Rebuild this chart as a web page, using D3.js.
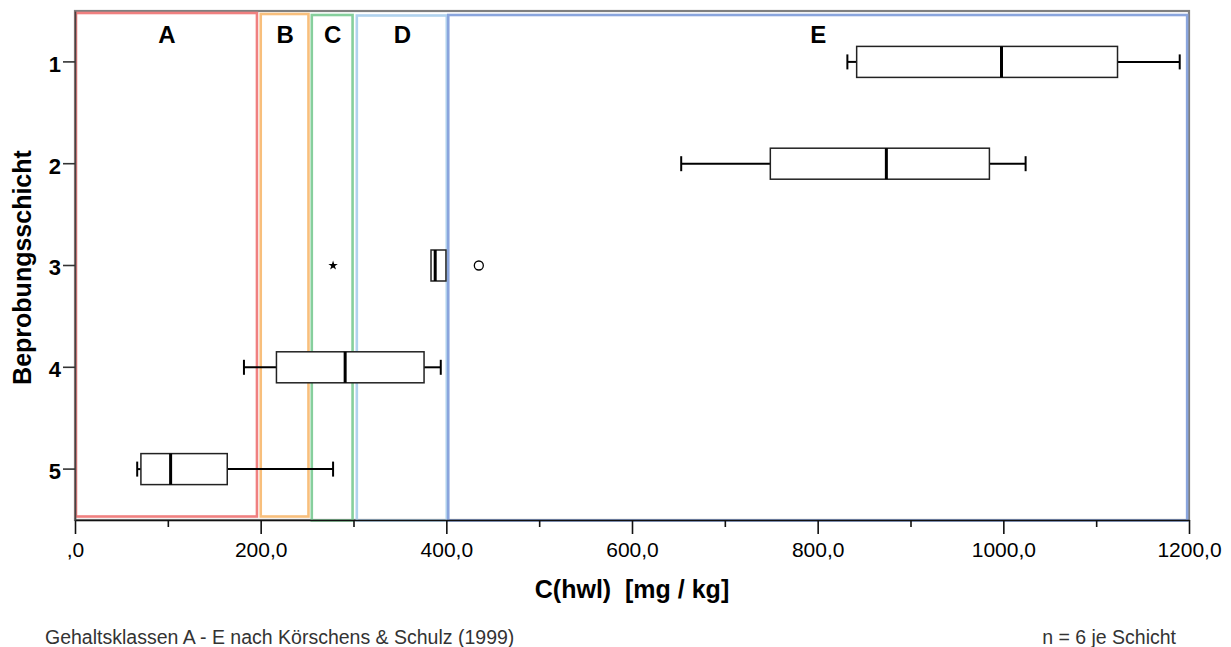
<!DOCTYPE html>
<html><head><meta charset="utf-8">
<script src="https://cdn.jsdelivr.net/npm/d3@7"></script>
<style>
body{margin:0;background:#fff;}
svg{display:block;font-family:"Liberation Sans",Arial,Helvetica,sans-serif;}
</style>
</head><body>
<svg id="chart" width="1231" height="647"></svg>
<script>
// ---- data ----
const layers = ["1", "2", "3", "4", "5"];
const whiskerLow  = [832, 653, 383.5, 182, 67];
const q1          = [842, 749, 383.5, 217, 71];
const median      = [998, 874, 388,   291, 103];
const q3          = [1123, 985, 399.6, 376, 164];
const whiskerHigh = [1190, 1024, 399.6, 394, 278];
const outlierLayer = ["3"];
const outlierValue = [435];
const extremeLayer = ["3"];
const extremeValue = [278];
const classNames = ["A", "B", "C", "D", "E"];
const classStart = [0, 199, 254, 302.5, 401];
const classEnd   = [196, 251.5, 299, 400.5, 1198];
const xTickValues = [0, 200, 400, 600, 800, 1000, 1200];
const xTickLabels = [",0", "200,0", "400,0", "600,0", "800,0", "1000,0", "1200,0"];
const xMinorTicks = [100, 300, 500, 700, 900, 1100];
const xTitle = "C(hwl)  [mg / kg]";
const yTitle = "Beprobungsschicht";
const noteLeft = "Gehaltsklassen A - E nach Körschens & Schulz (1999)";
const noteRight = "n = 6 je Schicht";

// ---- layout / style ----
const W = 1231, H = 647;
const M = {left: 75, right: 42, top: 11, bottom: 127};
const classColors = ["#f08080", "#f8bf7c", "#86cf9d", "#b0d2ee", "#8aa5dd"];
const classTopInset = [2, 3, 4, 4.5, 4];
const classBottomInset = [3.5, 3.5, -0.5, -0.5, -0.5];
const boxH = 31, capH = 15;

const svg = d3.select("#chart");
const x = d3.scaleLinear().domain([0, 1200]).range([M.left, W - M.right]);
const y = d3.scaleBand().domain(layers).range([M.top, H - M.bottom]).padding(0);
const yc = d => y(d) + y.bandwidth() / 2;
const plotTop = M.top, plotBottom = H - M.bottom;

// frame
svg.append("rect")
  .attr("x", M.left).attr("y", plotTop)
  .attr("width", x(1200) - M.left).attr("height", plotBottom - plotTop)
  .attr("fill", "none").attr("stroke", "#7f7f7f").attr("stroke-width", 2.2);

// class rectangles
const cls = svg.append("g");
classNames.forEach((c, i) => {
  cls.append("rect")
    .attr("x", x(classStart[i]) + 1)
    .attr("y", plotTop + classTopInset[i])
    .attr("width", x(classEnd[i]) - x(classStart[i]) - 1)
    .attr("height", (plotBottom - classBottomInset[i]) - (plotTop + classTopInset[i]))
    .attr("fill", "none").attr("stroke", classColors[i]).attr("stroke-width", 2.6);
  cls.append("text")
    .attr("x", (x(classStart[i]) + x(classEnd[i])) / 2 + 1)
    .attr("y", 43)
    .attr("text-anchor", "middle")
    .attr("font-size", 24).attr("font-weight", "bold").attr("fill", "#000")
    .text(c);
});

// boxplots
const bx = svg.append("g");
layers.forEach((l, i) => {
  const cy = yc(l);
  if (whiskerLow[i] < q1[i]) {
    bx.append("line").attr("x1", x(whiskerLow[i])).attr("x2", x(q1[i]))
      .attr("y1", cy).attr("y2", cy).attr("stroke", "#000").attr("stroke-width", 2);
    bx.append("line").attr("x1", x(whiskerLow[i])).attr("x2", x(whiskerLow[i]))
      .attr("y1", cy - capH / 2).attr("y2", cy + capH / 2).attr("stroke", "#000").attr("stroke-width", 2);
  }
  if (whiskerHigh[i] > q3[i]) {
    bx.append("line").attr("x1", x(q3[i])).attr("x2", x(whiskerHigh[i]))
      .attr("y1", cy).attr("y2", cy).attr("stroke", "#000").attr("stroke-width", 2);
    bx.append("line").attr("x1", x(whiskerHigh[i])).attr("x2", x(whiskerHigh[i]))
      .attr("y1", cy - capH / 2).attr("y2", cy + capH / 2).attr("stroke", "#000").attr("stroke-width", 2);
  }
  bx.append("rect").attr("x", x(q1[i])).attr("y", cy - boxH / 2)
    .attr("width", x(q3[i]) - x(q1[i])).attr("height", boxH)
    .attr("fill", "#fff").attr("stroke", "#222").attr("stroke-width", 1.5);
  bx.append("line").attr("x1", x(median[i])).attr("x2", x(median[i]))
    .attr("y1", cy - boxH / 2).attr("y2", cy + boxH / 2)
    .attr("stroke", "#000").attr("stroke-width", 3);
});
outlierLayer.forEach((l, i) => {
  bx.append("circle").attr("cx", x(outlierValue[i])).attr("cy", yc(l)).attr("r", 4.5)
    .attr("fill", "#fff").attr("stroke", "#000").attr("stroke-width", 1.3);
});
extremeLayer.forEach((l, i) => {
  bx.append("path").attr("d", d3.symbol(d3.symbolStar).size(28)())
    .attr("transform", `translate(${x(extremeValue[i])},${yc(l)})`).attr("fill", "#000");
});

// x axis
const xAxis = svg.append("g").attr("transform", `translate(0,${plotBottom})`)
  .call(d3.axisBottom(x).tickValues(xTickValues).tickFormat((d, i) => xTickLabels[i])
    .tickSize(14).tickSizeOuter(0).tickPadding(8));
xAxis.attr("font-family", null);
xAxis.select(".domain").attr("stroke", "#111").attr("stroke-width", 1.6);
xAxis.selectAll(".tick line").attr("stroke", "#111").attr("stroke-width", 1.6);
xAxis.selectAll("text").attr("font-size", 21).attr("fill", "#000");
const minor = svg.append("g").attr("transform", `translate(0,${plotBottom})`)
  .call(d3.axisBottom(x).tickValues(xMinorTicks).tickFormat("").tickSize(7).tickSizeOuter(0));
minor.select(".domain").remove();
minor.selectAll(".tick line").attr("stroke", "#111").attr("stroke-width", 1.6);

// y axis
const yAxis = svg.append("g").attr("transform", `translate(${M.left},0)`)
  .call(d3.axisLeft(y).tickSize(12).tickSizeOuter(0).tickPadding(2));
yAxis.attr("font-family", null);
yAxis.select(".domain").attr("stroke", "#444").attr("stroke-width", 1.6);
yAxis.selectAll(".tick line").attr("stroke", "#333").attr("stroke-width", 1.6);
yAxis.selectAll("text").attr("font-size", 22).attr("font-weight", "bold")
  .attr("fill", "#000").attr("dy", "0.45em");

// titles
svg.append("text").attr("x", (M.left + x(1200)) / 2).attr("y", 598)
  .attr("text-anchor", "middle").attr("font-size", 25).attr("font-weight", "bold")
  .style("white-space", "pre").text(xTitle);
svg.append("text").attr("transform", `translate(31,${(plotTop + plotBottom) / 2 + 2}) rotate(-90)`)
  .attr("text-anchor", "middle").attr("font-size", 25).attr("font-weight", "bold")
  .text(yTitle);
svg.append("text").attr("x", 45).attr("y", 644).attr("font-size", 19.5).attr("fill", "#333")
  .text(noteLeft);
svg.append("text").attr("x", 1176).attr("y", 644).attr("text-anchor", "end")
  .attr("font-size", 19.5).attr("fill", "#333").text(noteRight);
</script>
</body></html>
